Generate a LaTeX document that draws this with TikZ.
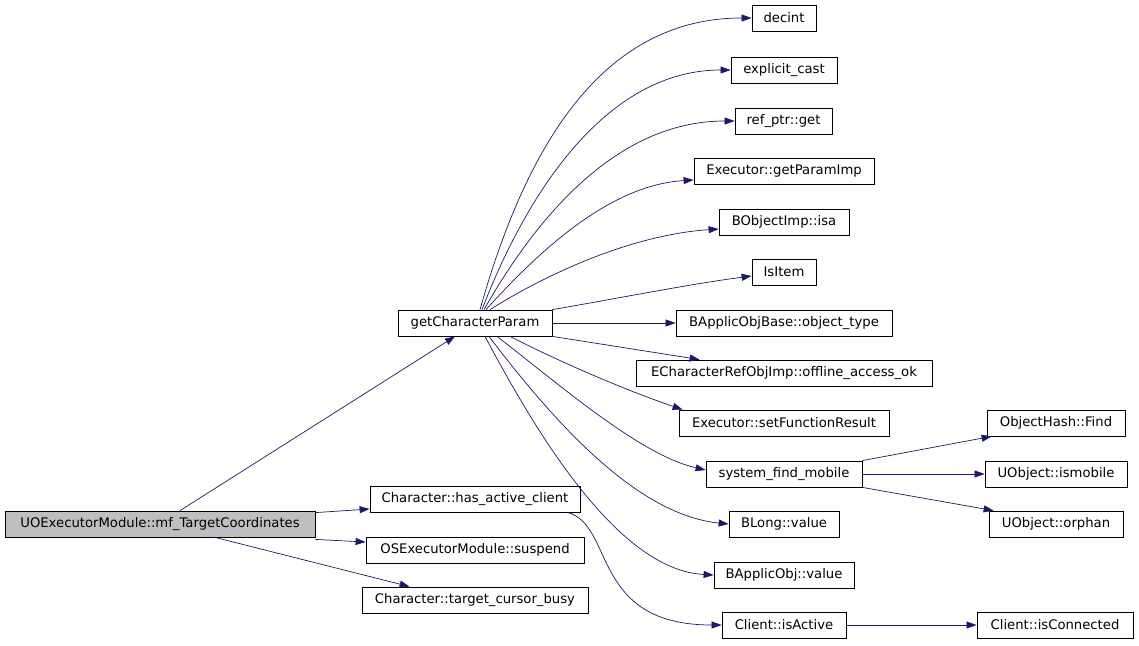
\documentclass[tikz,border=0pt]{standalone}
\usepackage{fontspec}
\setmainfont{DejaVu Sans}
\usetikzlibrary{arrows.meta}
\definecolor{edgeblue}{RGB}{25,25,112}
\definecolor{rootgray}{RGB}{191,191,191}
\begin{document}
\begin{tikzpicture}[x=1pt,y=-1pt,
  box/.style={draw=black,line width=0.8pt,fill=white,minimum height=26pt,inner sep=0pt,
    font=\fontsize{13.2}{15}\selectfont},
  edge/.style={draw=edgeblue,line width=0.7pt,-{Triangle[length=10pt,width=7pt]}}]
\useasboundingbox (0,0) rectangle (1139,645);
% right column
\node[box,minimum width=64pt]  (decint)  at (784,18)  {decint};
\node[box,minimum width=106pt] (ecast)   at (784,70)  {explicit\_cast};
\node[box,minimum width=97pt]  (refget)  at (783.5,121) {ref\_ptr::get};
\node[box,minimum width=180pt] (gpi)     at (784,171) {Executor::getParamImp};
\node[box,minimum width=130pt] (isa)     at (784,222) {BObjectImp::isa};
\node[box,minimum width=64pt]  (isitem)  at (784,272) {IsItem};
\node[box,minimum width=216pt] (otype)   at (784,323) {BApplicObjBase::object\_type};
\node[box,minimum width=296pt] (offline) at (784,373) {ECharacterRefObjImp::offline\_access\_ok};
\node[box,minimum width=210pt] (sfr)     at (784,423) {Executor::setFunctionResult};
\node[box,minimum width=156pt] (sfm)     at (784,474) {system\_find\_mobile};
\node[box,minimum width=110pt] (blong)   at (784,524) {BLong::value};
\node[box,minimum width=140pt] (bao)     at (784,575) {BApplicObj::value};
\node[box,minimum width=124pt] (isact)   at (784,625) {Client::isActive};
% far right
\node[box,minimum width=138pt] (find)    at (1056,423) {ObjectHash::Find};
\node[box,minimum width=142pt] (ismob)   at (1056,474) {UObject::ismobile};
\node[box,minimum width=134pt] (orphan)  at (1056,524) {UObject::orphan};
\node[box,minimum width=156pt] (iscon)   at (1055,625) {Client::isConnected};
% middle column
\node[box,minimum width=154pt] (gcp)     at (475,323) {getCharacterParam};
\node[box,minimum width=210pt] (hac)     at (475,499) {Character::has\_active\_client};
\node[box,minimum width=218pt] (susp)    at (475,550) {OSExecutorModule::suspend};
\node[box,minimum width=226pt] (tcb)     at (475,600) {Character::target\_cursor\_busy};
% root
\node[box,minimum width=310pt,fill=rootgray] (mf) at (160,524) {UOExecutorModule::mf\_TargetCoordinates};
% edges from root
\draw[edge] ([xshift=20pt]mf.north) -- ([xshift=-20pt]gcp.south);
\draw[edge] ([yshift=-2pt]mf.north east) -- ([yshift=-10pt]hac.west);
\draw[edge] ([yshift=-2pt]mf.east |- mf.south) -- ([yshift=8pt]susp.west);
\draw[edge] ([xshift=55pt]mf.south) -- ([xshift=48pt]tcb.north west);
% edges from getCharacterParam
\draw[edge] ([xshift=5pt]gcp.north) .. controls (525,150) and (600,18) .. (decint.west);
\draw[edge] ([xshift=7pt]gcp.north) .. controls (530,185) and (610,70) .. (ecast.west);
\draw[edge] ([xshift=9pt]gcp.north) .. controls (535,220) and (615,121) .. (refget.west);
\draw[edge] ([xshift=11pt]gcp.north) .. controls (540,250) and (610,185) .. ([yshift=-9pt]gpi.west);
\draw[edge] ([xshift=15pt]gcp.north) .. controls (545,275) and (630,235) .. ([yshift=-7pt]isa.west);
\draw[edge] (gcp.north east) .. controls (620,298) and (690,284) .. ([yshift=-4pt]isitem.west);
\draw[edge] (gcp.east) -- (otype.west);
\draw[edge] (gcp.south east) -- ([xshift=64pt]offline.north west);
\draw[edge] ([xshift=35pt]gcp.south) .. controls (560,362) and (625,390) .. ([xshift=4pt]sfr.north west);
\draw[edge] ([xshift=22pt]gcp.south) .. controls (560,385) and (640,455) .. ([yshift=4pt]sfm.west);
\draw[edge] ([xshift=14pt]gcp.south) .. controls (560,430) and (640,515) .. (blong.west);
\draw[edge] ([xshift=10pt]gcp.south) .. controls (540,440) and (620,570) .. (bao.west);
% other edges
\draw[edge] ([xshift=-13pt]hac.south east) .. controls (615,525) and (590,625) .. (isact.west);
\draw[edge] (sfm.north east) -- ([xshift=5pt]find.south west);
\draw[edge] (sfm.east) -- (ismob.west);
\draw[edge] (sfm.south east) -- ([xshift=5pt]orphan.north west);
\draw[edge] (isact.east) -- (iscon.west);
\end{tikzpicture}
\end{document}
